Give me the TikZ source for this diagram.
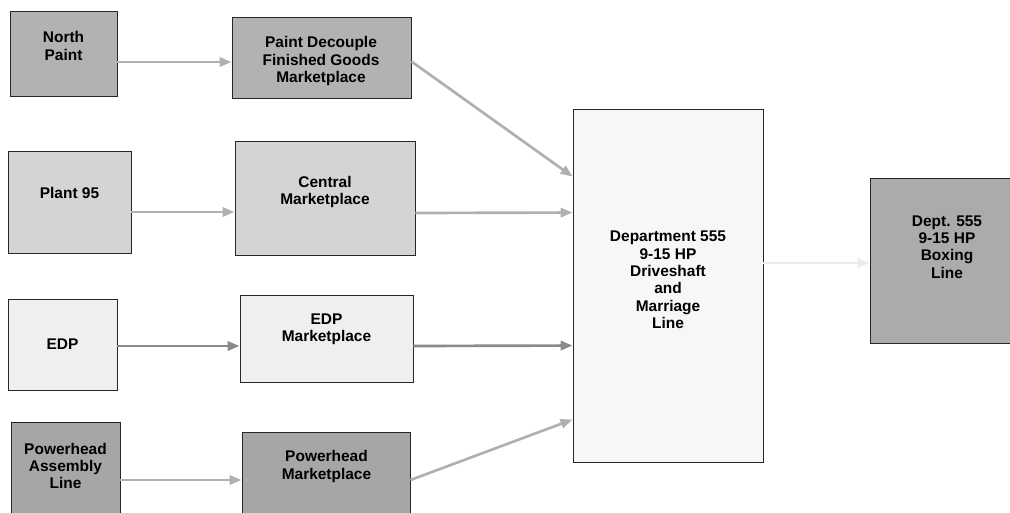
\documentclass[tikz,border=0pt]{standalone}
\usepackage{fontspec}
\setmainfont{Liberation Sans}
\usetikzlibrary{fit,arrows.meta,calc}
\definecolor{cNP}{HTML}{B2B2B2}
\definecolor{cPD}{HTML}{B2B2B2}
\definecolor{cPL}{HTML}{D4D4D4}
\definecolor{cEDP}{HTML}{EFEFEF}
\definecolor{cPH}{HTML}{A6A6A6}
\definecolor{cDEP}{HTML}{F7F7F7}
\definecolor{cBOX}{HTML}{ABABAB}
\definecolor{aLight}{HTML}{B0B0B0}
\definecolor{aDark}{HTML}{8A8A8A}
\definecolor{aPale}{HTML}{EBEBEB}
\tikzset{
  blk/.style={draw=black!85, line width=0.7pt, inner sep=0pt, rectangle},
  lbl/.style={align=center, font=\fontsize{11.6}{13}\selectfont\bfseries, inner sep=0pt},
  flow/.style={line width=2pt, -{Triangle[length=9pt,width=7pt]}},
}
\begin{document}
\begin{tikzpicture}[x=0.75pt,y=-0.75pt]
\useasboundingbox (0,0) rectangle (1010,512);
% boxes
\node[blk, fill=cNP, fit={(10,11)(117,96)}] (np) {};
\node[lbl] (npt) at (63.5,46) {North\\Paint};
\node[blk, fill=cPD, fit={(232,17)(411,98)}] (pd) {};
\node[lbl] (pdt) at (321,61) {Paint Decouple\\Finished Goods\\Marketplace};
\node[blk, fill=cPL, fit={(8,151)(131,253)}] (pl) {};
\node[lbl] (plt) at (69.5,193) {Plant 95};
\node[blk, fill=cPL, fit={(235,141)(415,255)}] (cm) {};
\node[lbl] (cmt) at (325,192) {Central\\Marketplace};
\node[blk, fill=cEDP, fit={(8,299)(117,390)}] (ed) {};
\node[lbl] (edt) at (62.5,344) {EDP};
\node[blk, fill=cEDP, fit={(240,295)(413,382)}] (em) {};
\node[lbl] (emt) at (326.5,329.5) {EDP\\Marketplace};
\node[blk, fill=cPH, fit={(11,422)(120,518)}] (ph) {};
\node[lbl] (pht) at (65.5,466) {Powerhead\\Assembly\\Line};
\node[blk, fill=cPH, fit={(242,432)(410,518)}] (pm) {};
\node[lbl] (pmt) at (326.5,466.5) {Powerhead\\Marketplace};
\node[blk, fill=cDEP, fit={(573,109)(763,462)}] (dp) {};
\node[lbl] (dpt) at (668,280) {Department 555\\9-15 HP\\Driveshaft\\and\\Marriage\\Line};
\node[blk, fill=cBOX, fit={(870,178)(1024,343)}] (bx) {};
\node[lbl] (bxt) at (947,247) {Dept. 555\\9-15 HP\\Boxing\\Line};
% connectors
\draw[flow, aLight] ($(np.east)+(0,8.5)$) -- ($(pd.west)+(0,4.5)$);
\draw[flow, aLight] ($(pd.east)+(0,4)$) -- ($(dp.north west)+(0,68)$);
\draw[flow, aLight] ($(pl.east)+(0,10)$) -- ($(cm.west)+(0,14)$);
\draw[flow, aLight] ($(cm.east)+(0,15)$) -- ($(dp.north west)+(0,104)$);
\draw[flow, aDark] ($(ed.east)+(0,1.5)$) -- ($(em.west)+(0,7.5)$);
\draw[flow, aDark] ($(em.east)+(0,7.5)$) -- ($(dp.north west)+(0,237)$);
\draw[flow, aLight] ($(ph.east)+(0,10)$) -- ($(pm.west)+(0,5)$);
\draw[flow, aLight] ($(pm.east)+(0,5)$) -- ($(dp.north west)+(0,311)$);
\draw[flow, aPale] ($(dp.east)+(0,-22.5)$) -- ($(bx.west)+(0,2.5)$);
\end{tikzpicture}
\end{document}
